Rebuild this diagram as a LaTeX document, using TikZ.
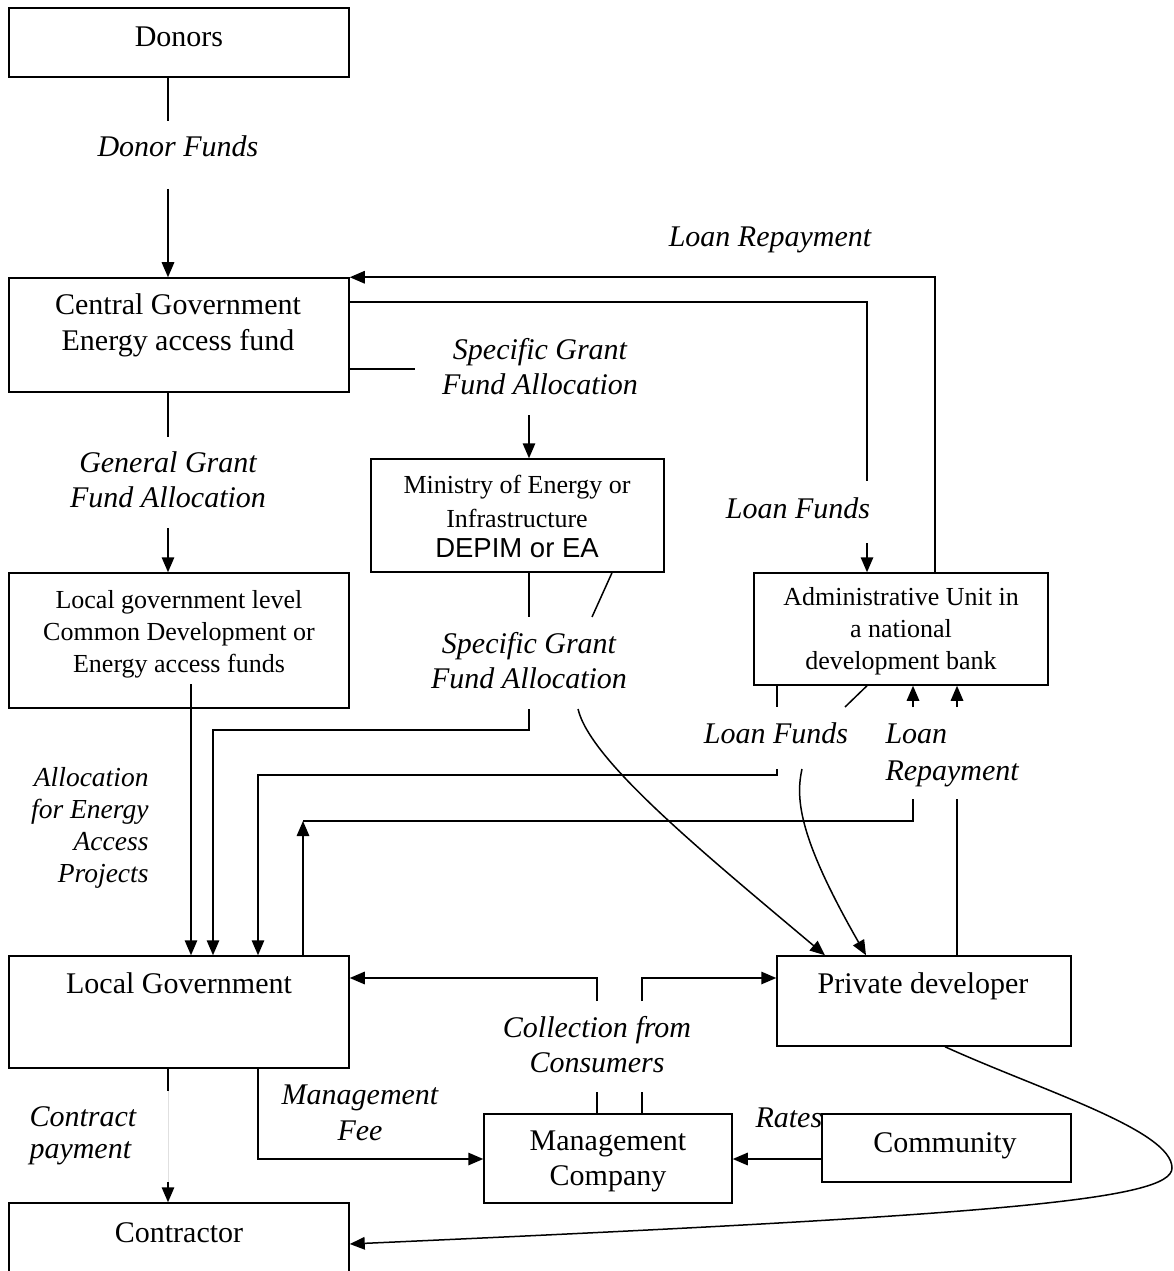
\documentclass[tikz,border=0pt]{standalone}
\usepackage{fontspec}
\setmainfont{Liberation Serif}
\newfontfamily\sansf{Liberation Sans}
\usetikzlibrary{arrows.meta,fit}
\begin{document}
\begin{tikzpicture}[x=0.4pt,y=-0.4pt,
  box/.style={draw,line width=0.6pt,inner sep=0pt},
  conn/.style={line width=0.6pt},
  faint/.style={line width=0.4pt,draw=black!12},
  arr/.style={conn,-{Triangle[length=6pt,width=5pt]}},
  txt/.style={inner sep=0pt,anchor=base,align=center,font=\fontsize{12}{14.4}\selectfont},
  stxt/.style={inner sep=0pt,anchor=base,align=center,font=\fontsize{10.4}{12.8}\selectfont},
  lab/.style={inner sep=0pt,anchor=base,align=center,font=\fontsize{12}{14}\selectfont\itshape},
]
\useasboundingbox (0,0) rectangle (1173,1271);
\clip (0,0) rectangle (1173,1271);

% boxes
\node[box,fit={(9,8) (349,77)}] (donors) {};
\node[box,fit={(9,278) (349,392)}] (cg) {};
\node[box,fit={(371,459) (664,572)}] (min) {};
\node[box,fit={(9,573) (349,708)}] (lgl) {};
\node[box,fit={(754,573) (1048,685)}] (adm) {};
\node[box,fit={(9,956) (349,1068)}] (lg) {};
\node[box,fit={(777,956) (1071,1046)}] (pd) {};
\node[box,fit={(484,1114) (732,1203)}] (mc) {};
\node[box,fit={(822,1114) (1071,1182)}] (com) {};
\node[box,fit={(9,1203) (349,1300)}] (con) {};

% box texts (multi-line nodes are placed at the baseline of their last line)
\node[txt] (tdonors) at (179,47) {Donors};
\node[txt] (tcg) at (178,351) {Central Government\\Energy access fund};
\node[stxt,font=\fontsize{10.4}{13.6}\selectfont] (tmin) at (517,557) {Ministry of Energy or\\Infrastructure\\[-1.6pt]{\sansf\fontsize{11}{12}\selectfont DEPIM or EA}};
\node[stxt] (tlgl) at (179,672) {Local government level\\Common Development or\\Energy access funds};
\node[stxt] (tadm) at (901,669) {Administrative Unit in\\a national\\development bank};
\node[txt] (tlg) at (179,993) {Local Government};
\node[txt] (tpd) at (923,993) {Private developer};
\node[txt,font=\fontsize{12}{14}\selectfont] (tmc) at (608,1185) {Management\\Company};
\node[txt] (tcom) at (945,1152) {Community};
\node[txt] (tcon) at (179,1242) {Contractor};

% labels
\node[lab] (ldf) at (178,157) {Donor Funds};
\node[lab] (llr1) at (770,247) {Loan Repayment};
\node[lab] (lsg1) at (540,395) {Specific Grant\\Fund Allocation};
\node[lab] (lgg) at (168,507) {General Grant\\Fund Allocation};
\node[lab] (llf1) at (798,518) {Loan Funds};
\node[lab] (lsg2) at (529,688) {Specific Grant\\Fund Allocation};
\node[lab] (llf2) at (776,743) {Loan Funds};
\node[lab,align=left,anchor=base west,font=\fontsize{12}{14.7}\selectfont\itshape] (llr2) at (885,780) {Loan\\Repayment};
\node[lab,align=right,anchor=base east,font=\fontsize{11}{12.7}\selectfont\itshape] (lalloc) at (149,882) {Allocation\\for Energy\\Access\\Projects};
\node[lab] (lcol) at (597,1072) {Collection from\\Consumers};
\node[lab,align=left,anchor=base west,font=\fontsize{12}{12.7}\selectfont\itshape] (lcp) at (29,1158) {Contract\\payment};
\node[lab,font=\fontsize{12}{14.4}\selectfont\itshape] (lmf) at (360,1140) {Management\\Fee};
\node[lab,anchor=base west] (lrates) at (755,1127) {Rates};

% Donors -> Central Government
\draw[conn] (168,0 |- donors.south) -- (168,121);
\draw[arr] (168,189) -- (168,0 |- cg.north);

% Loan repayment (top)
\draw[arr] (935,0 |- adm.north) |- (cg.north east);

% Loan funds (upper)
\draw[conn] (cg.east |- 0,302) -| (867,481);
\draw[arr] (867,543) -- (867,0 |- adm.north);

% Specific grant (upper)
\draw[conn] (cg.east |- 0,369) -- (415,369);
\draw[arr] (529,415) -- (529,0 |- min.north);

% General grant
\draw[conn] (168,0 |- cg.south) -- (168,437);
\draw[arr] (168,528) -- (168,0 |- lgl.north);

% Ministry bottom
\draw[conn] (529,0 |- min.south) -- (529,617);
\draw[conn] (612,0 |- min.south) -- (592,617);

% Specific grant (lower)
\draw[arr] (529,709) |- (213,730) -- (213,0 |- lg.north);
\draw[arr] (578,709) .. controls (590,760) and (700,850) .. (825,0 |- pd.north);

% Local gov level -> Local gov
\draw[arr] (191,684) -- (191,0 |- lg.north);

% Loan funds (lower)
\draw[conn] (777,0 |- adm.south) -- (777,707);
\draw[conn] (867,0 |- adm.south) -- (845,707);
\draw[arr] (777,769) |- (258,775) -- (258,0 |- lg.north);
\draw[arr] (802,769) .. controls (795,800) and (800,840) .. (866,0 |- pd.north);

% Loan repayment (lower)
\draw[arr] (913,707) -- (913,0 |- adm.south);
\draw[arr] (957,707) -- (957,0 |- adm.south);
\draw[conn] (957,0 |- pd.north) -- (957,799);
\draw[conn] (913,799) |- (303,821);
\draw[arr] (303,0 |- lg.north) -- (303,821);

% Collection from consumers
\draw[arr] (597,1001) |- (lg.east |- 0,978);
\draw[arr] (642,1001) |- (pd.west |- 0,978);
\draw[conn] (597,1092) -- (597,0 |- mc.north);
\draw[conn] (642,1092) -- (642,0 |- mc.north);

% Contract payment
\draw[conn] (168,0 |- lg.south) -- (168,1091);
\draw[faint] (168,1091) -- (168,1182);
\draw[arr] (168,1182) -- (168,0 |- con.north);

% Management fee
\draw[arr] (258,0 |- lg.south) |- (mc.west |- 0,1159);

% Rates
\draw[arr] (com.west |- 0,1159) -- (mc.east |- 0,1159);

% Private developer -> Contractor
\draw[arr] (945,0 |- pd.south) .. controls (1040,1090) and (1172,1130) .. (1172,1168)
  .. controls (1172,1200) and (1000,1215) .. (con.east |- 0,1244);
\end{tikzpicture}
\end{document}
